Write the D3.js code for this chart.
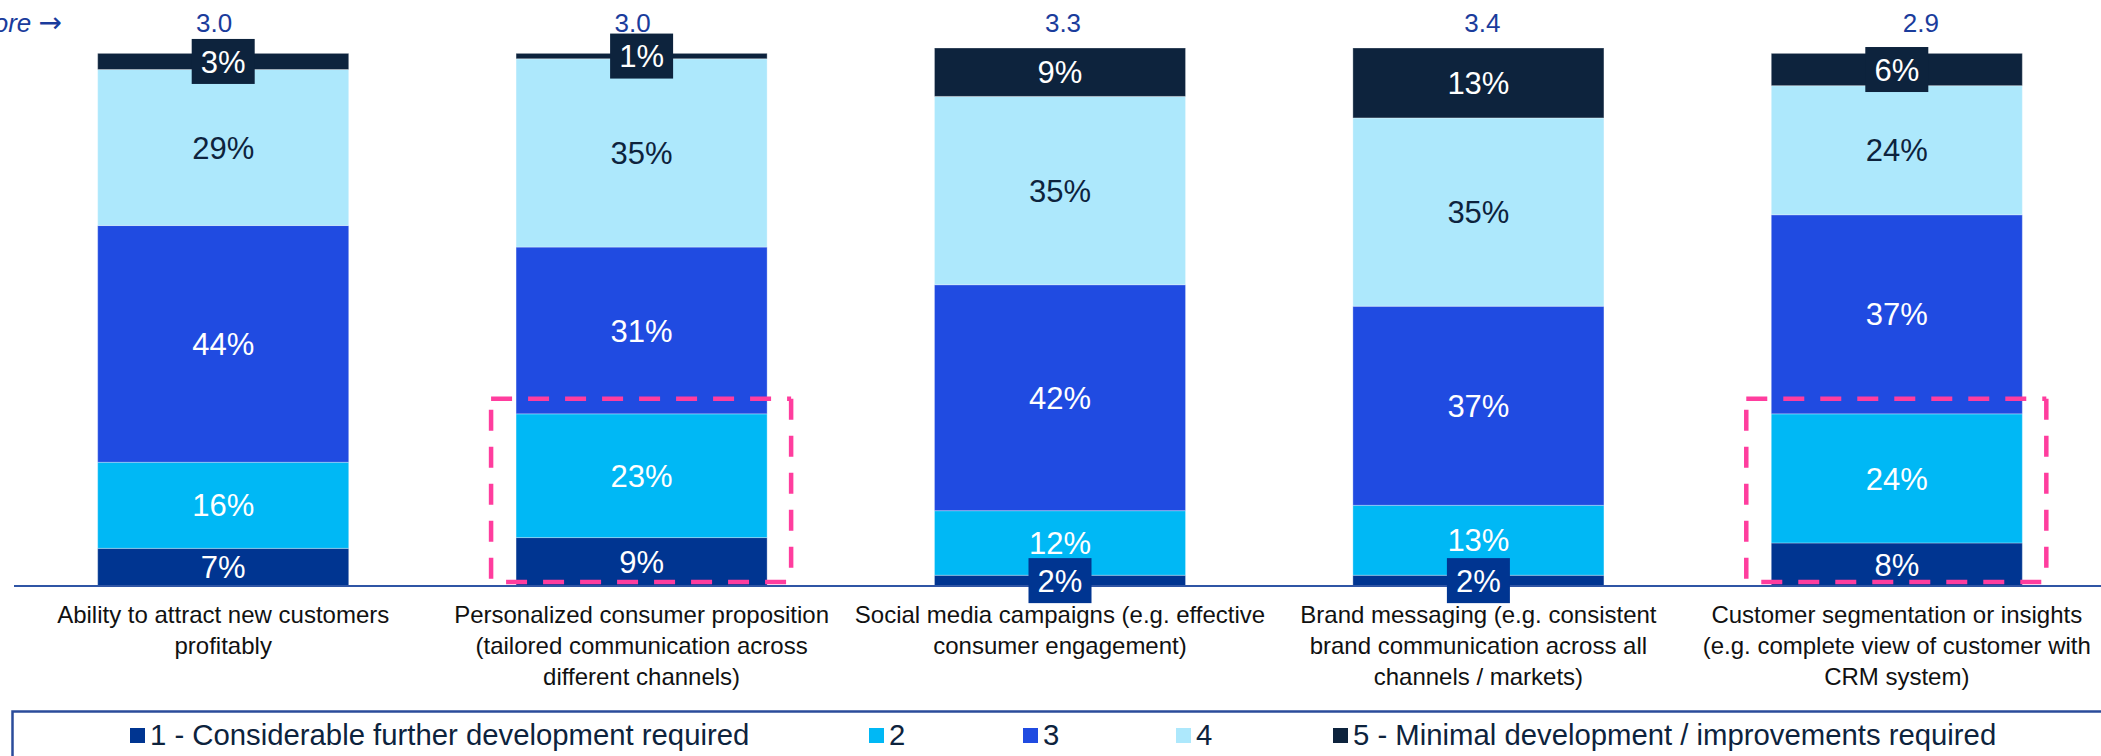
<!DOCTYPE html>
<html>
<head>
<meta charset="utf-8">
<script src="https://cdn.jsdelivr.net/npm/d3@7"></script>
<style>
  html, body { margin: 0; padding: 0; background: #ffffff; }
  svg { display: block; }
  text { font-family: "Liberation Sans", Arial, sans-serif; }
</style>
</head>
<body>
<svg id="chart" width="2101" height="756"></svg>
<script>
// Capability areas (one stacked bar each) and their wrapped axis labels
const categories = ["attract", "personalized", "social", "brand", "segmentation"];
const categoryLines = [
  ["Ability to attract new customers", "profitably"],
  ["Personalized consumer proposition", "(tailored communication across", "different channels)"],
  ["Social media campaigns (e.g. effective", "consumer engagement)"],
  ["Brand messaging (e.g. consistent", "brand communication across all", "channels / markets)"],
  ["Customer segmentation or insights", "(e.g. complete view of customer with", "CRM system)"]
];

// Share of respondents per rating level (%)
const level1 = [7, 9, 2, 2, 8];
const level2 = [16, 23, 12, 13, 24];
const level3 = [44, 31, 42, 37, 37];
const level4 = [29, 35, 35, 35, 24];
const level5 = [3, 1, 9, 13, 6];

// Average score shown above each bar
const averageScores = ["3.0", "3.0", "3.3", "3.4", "2.9"];

// Bars whose lower two levels are called out with a dashed frame
const calledOut = [false, true, false, false, true];

const seriesNames = [
  "1 - Considerable further development required",
  "2",
  "3",
  "4",
  "5 - Minimal development / improvements required"
];
const seriesKeys = ["l1", "l2", "l3", "l4", "l5"];
const seriesColors = ["#003591", "#00B8F5", "#204BE1", "#ADE8FC", "#0D233D"];
const labelColors = ["#ffffff", "#ffffff", "#ffffff", "#0D233D", "#ffffff"];

const rows = categories.map((c, i) => ({
  cat: c, l1: level1[i], l2: level2[i], l3: level3[i], l4: level4[i], l5: level5[i]
}));

const svg = d3.select("#chart");
const baseY = 586;

const x = d3.scaleBand()
  .domain(categories)
  .range([14, 2106])
  .paddingInner(0.4)
  .paddingOuter(0.2);

const y = d3.scaleLinear().domain([0, 100]).range([baseY, 48]);

const stacked = d3.stack().keys(seriesKeys)(rows);

// Stacked segments
const layers = svg.append("g").selectAll("g")
  .data(stacked)
  .join("g")
  .attr("fill", (d, i) => seriesColors[i]);

layers.selectAll("rect")
  .data(d => d)
  .join("rect")
  .attr("x", d => x(d.data.cat))
  .attr("width", x.bandwidth())
  .attr("y", d => y(d[1]))
  .attr("height", d => y(d[0]) - y(d[1]))
  .attr("stroke", "rgba(255,255,255,0.3)")
  .attr("stroke-width", 1);

// Baseline
svg.append("line")
  .attr("x1", 14).attr("x2", 2101)
  .attr("y1", baseY).attr("y2", baseY)
  .attr("stroke", "#2F55A5").attr("stroke-width", 2);

// Segment value labels (small segments get a tag box in the segment colour)
const labelSize = 31;
stacked.forEach((layer, si) => {
  const g = svg.append("g");
  layer.forEach(d => {
    const v = d[1] - d[0];
    const cx = x(d.data.cat) + x.bandwidth() / 2;
    const cy = (y(d[0]) + y(d[1])) / 2;
    if (v <= 6) {
      g.append("rect")
        .attr("x", cx - 31.5).attr("y", cy - 22.5)
        .attr("width", 63).attr("height", 45)
        .attr("fill", seriesColors[si]);
    }
    g.append("text")
      .attr("x", cx).attr("y", cy + labelSize * 0.36)
      .attr("text-anchor", "middle")
      .attr("font-size", labelSize)
      .attr("fill", v <= 6 ? "#ffffff" : labelColors[si])
      .text(v + "%");
  });
});

// Dashed call-out frames around levels 1 and 2
rows.forEach((r, i) => {
  if (!calledOut[i]) return;
  const x0 = x(r.cat) - 25;
  const x1 = x(r.cat) + x.bandwidth() + 24;
  const y0 = y(r.l1 + r.l2) - 15;
  const y1 = baseY - 4;
  const g = svg.append("g")
    .attr("stroke", "#FF3D9E").attr("stroke-width", 4.5)
    .attr("stroke-dasharray", "21,16").attr("fill", "none");
  g.append("line").attr("x1", x0).attr("x2", x1).attr("y1", y0).attr("y2", y0);
  g.append("line").attr("x1", x1).attr("x2", x1).attr("y1", y0).attr("y2", y1);
  g.append("line").attr("x1", x0 + 15).attr("x2", x1).attr("y1", y1).attr("y2", y1);
  g.append("line").attr("x1", x0).attr("x2", x0).attr("y1", y0 + 11).attr("y2", y1);
});

// Average scores above the bars (small hand-set nudges per label)
const scoreNudge = [-9, -9, 3, 4, 24];
svg.append("g").selectAll("text")
  .data(rows)
  .join("text")
  .attr("x", (d, i) => x(d.cat) + x.bandwidth() / 2 + scoreNudge[i])
  .attr("y", 32)
  .attr("text-anchor", "middle")
  .attr("font-size", 26)
  .attr("fill", "#1A3C9C")
  .text((d, i) => averageScores[i]);

const avgTitle = svg.append("text")
  .attr("x", 62).attr("y", 32)
  .attr("text-anchor", "end")
  .attr("font-size", 26)
  .attr("fill", "#1A3C9C");
avgTitle.append("tspan").attr("font-style", "italic").text("Average score ");
avgTitle.append("tspan")
  .attr("font-family", "'DejaVu Sans', sans-serif")
  .attr("font-size", 28)
  .text("\u2192");

// Category labels under the axis
const catG = svg.append("g").selectAll("text")
  .data(rows)
  .join("text")
  .attr("text-anchor", "middle")
  .attr("font-size", 24)
  .attr("fill", "#111111");
catG.each(function(d, i) {
  const t = d3.select(this);
  categoryLines[i].forEach((line, li) => {
    t.append("tspan")
      .attr("x", x(d.cat) + x.bandwidth() / 2)
      .attr("y", 623 + li * 30.8)
      .text(line);
  });
});

// Legend frame and entries
svg.append("path")
  .attr("d", "M2101,711.5 H12.5 V756")
  .attr("fill", "none")
  .attr("stroke", "#2B4C9B")
  .attr("stroke-width", 2.5);

const legendX = [130, 869, 1023, 1176, 1333];
const legend = svg.append("g").selectAll("g")
  .data(seriesNames)
  .join("g")
  .attr("transform", (d, i) => `translate(${legendX[i]},728)`);
legend.append("rect")
  .attr("width", 15).attr("height", 15)
  .attr("fill", (d, i) => seriesColors[i]);
legend.append("text")
  .attr("x", 20).attr("y", 17)
  .attr("font-size", 29.3)
  .attr("fill", "#0D233D")
  .text(d => d);
</script>
</body>
</html>
